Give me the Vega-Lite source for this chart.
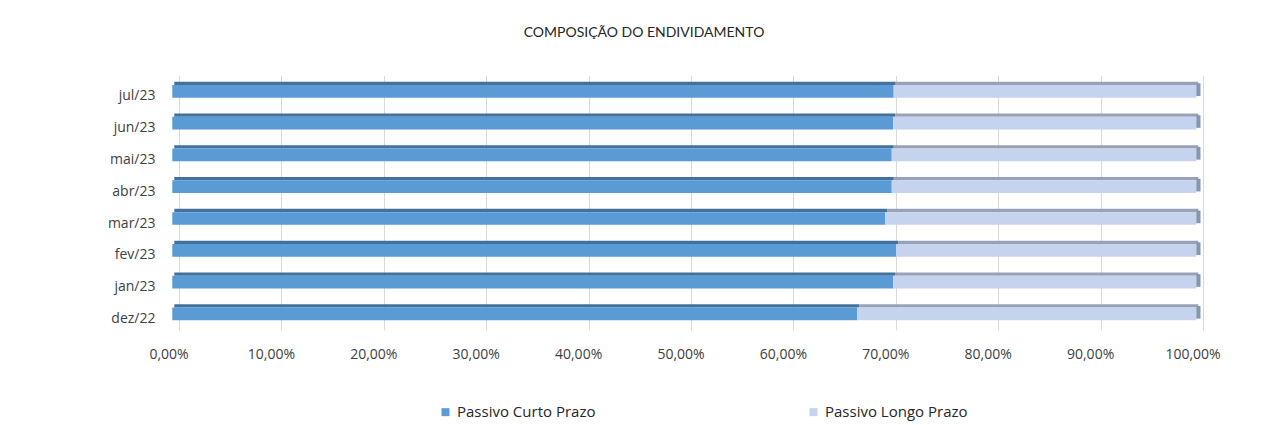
{
  "$schema": "https://vega.github.io/schema/vega-lite/v6.json",
  "autosize": "none",
  "width": 1024,
  "height": 254.4,
  "padding": {"left": 179, "top": 75.4, "right": 61, "bottom": 95.2},
  "background": "white",
  "config": {"view": {"stroke": null}, "font": "Open Sans"},
  "title": {"text": "COMPOSIÇÃO DO ENDIVIDAMENTO", "anchor": "middle", "frame": "group", "dx": -47, "offset": 35, "fontSize": 14, "fontWeight": "normal", "color": "#262626", "font": "Lato"},
  "data": {"values": [
    {"mes": "jul/23", "serie": "Passivo Curto Prazo", "valor": 70.45},
    {"mes": "jul/23", "serie": "Passivo Longo Prazo", "valor": 29.55},
    {"mes": "jun/23", "serie": "Passivo Curto Prazo", "valor": 70.39},
    {"mes": "jun/23", "serie": "Passivo Longo Prazo", "valor": 29.61},
    {"mes": "mai/23", "serie": "Passivo Curto Prazo", "valor": 70.26},
    {"mes": "mai/23", "serie": "Passivo Longo Prazo", "valor": 29.74},
    {"mes": "abr/23", "serie": "Passivo Curto Prazo", "valor": 70.26},
    {"mes": "abr/23", "serie": "Passivo Longo Prazo", "valor": 29.74},
    {"mes": "mar/23", "serie": "Passivo Curto Prazo", "valor": 69.61},
    {"mes": "mar/23", "serie": "Passivo Longo Prazo", "valor": 30.39},
    {"mes": "fev/23", "serie": "Passivo Curto Prazo", "valor": 70.69},
    {"mes": "fev/23", "serie": "Passivo Longo Prazo", "valor": 29.31},
    {"mes": "jan/23", "serie": "Passivo Curto Prazo", "valor": 70.39},
    {"mes": "jan/23", "serie": "Passivo Longo Prazo", "valor": 29.61},
    {"mes": "dez/22", "serie": "Passivo Curto Prazo", "valor": 66.90},
    {"mes": "dez/22", "serie": "Passivo Longo Prazo", "valor": 33.10}
  ]},
  "encoding": {
    "y": {"field": "mes", "type": "nominal", "sort": ["jul/23", "jun/23", "mai/23", "abr/23", "mar/23", "fev/23", "jan/23", "dez/22"],
      "scale": {"paddingInner": 0, "paddingOuter": 0},
      "axis": {"title": null, "domain": false, "ticks": false, "grid": false, "labelPadding": 24, "labelOffset": 5, "labelFontSize": 14, "labelColor": "#404040", "labelFont": "Open Sans"}}
  },
  "layer": [
    {
      "mark": {"type": "bar", "size": 3.3, "yOffset": -8, "xOffset": -4.7, "x2Offset": -4.7},
      "encoding": {
        "x": {"field": "valor", "type": "quantitative", "stack": "zero", "scale": {"domain": [0, 100], "nice": false},
          "axis": {"title": null, "values": [0, 10, 20, 30, 40, 50, 60, 70, 80, 90, 100], "labelExpr": "replace(format(datum.value, '.2f'), '.', ',') + '%'", "labelFlush": false, "labelOverlap": false, "domain": false, "ticks": false, "grid": true, "gridColor": "#d9d9d9", "gridWidth": 1, "labelPadding": 18, "labelOffset": -10.5, "labelFontSize": 14, "labelColor": "#404040", "labelFont": "Open Sans"}},
        "color": {"field": "serie", "type": "nominal", "scale": {"domain": ["Passivo Curto Prazo", "Passivo Longo Prazo"], "range": ["#41719C", "#97A2B6"]}, "legend": null}
      }
    },
    {
      "mark": {"type": "bar", "size": 12.7, "xOffset": -6.7, "x2Offset": -6.7},
      "encoding": {
        "x": {"field": "valor", "type": "quantitative", "stack": "zero"},
        "color": {"field": "serie", "type": "nominal", "scale": {"domain": ["Passivo Curto Prazo", "Passivo Longo Prazo"], "range": ["#5B9BD5", "#C5D3EE"]},
          "legend": {"title": null, "orient": "none", "direction": "horizontal", "legendX": 259, "legendY": 329, "symbolType": "square", "symbolSize": 64, "symbolStrokeWidth": 0, "labelFontSize": 15, "labelColor": "#262626", "labelFont": "Open Sans", "labelOffset": 4, "columnPadding": 210}}
      }
    },
    {
      "transform": [{"filter": "datum.serie == 'Passivo Longo Prazo'"}],
      "mark": {"type": "bar", "size": 12.7, "yOffset": -1.6, "color": "#8497B0", "xOffset": -6.7, "x2Offset": -2.5},
      "encoding": {
        "x": {"datum": 100, "type": "quantitative"},
        "x2": {"datum": 100}
      }
    }
  ],
  "resolve": {"scale": {"color": "independent"}}
}
